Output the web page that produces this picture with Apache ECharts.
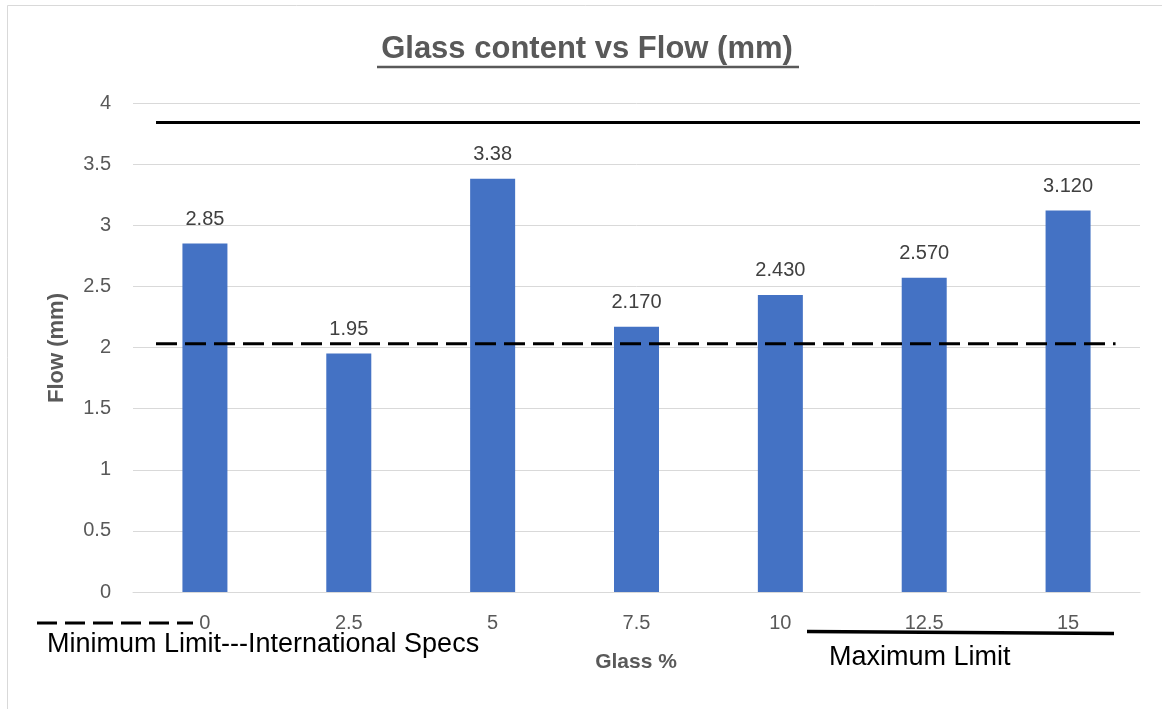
<!DOCTYPE html>
<html>
<head>
<meta charset="utf-8">
<title>Glass content vs Flow (mm)</title>
<script src="https://cdn.jsdelivr.net/npm/echarts@6/dist/echarts.min.js"></script>
<style>
  html, body { margin: 0; padding: 0; background: #ffffff; }
  #chart { width: 1162px; height: 709px; }
</style>
</head>
<body>
<div id="chart"></div>
<script>
// Glass content (%) on the x axis
const glassPercent = ['0', '2.5', '5', '7.5', '10', '12.5', '15'];
// Measured flow (mm) for each glass content
const flowValues = [2.85, 1.95, 3.38, 2.17, 2.43, 2.57, 3.12];
// Value labels as written above the bars
const flowLabels = ['2.85', '1.95', '3.38', '2.170', '2.430', '2.570', '3.120'];
// Specification limits (mm)
const maximumLimit = 3.84;
const minimumLimit = 2.03;
// Y axis ticks
const yMin = 0, yMax = 4, yStep = 0.5;

const FONT = 'Liberation Sans';
const GRID = { left: 133, right: 22, top: 103, bottom: 117 };

// Horizontal extent of the limit lines, in category units on a hidden x axis
const limitSpan = { maxFrom: 0.16, maxTo: 7, minFrom: 0.16, minTo: 6.83 };

const chart = echarts.init(document.getElementById('chart'), null, { renderer: 'canvas' });

const option = {
  animation: false,
  backgroundColor: '#ffffff',
  textStyle: { fontFamily: FONT },
  grid: GRID,
  xAxis: [
    {
      type: 'category',
      data: glassPercent,
      axisLine: { show: true, lineStyle: { color: '#d9d9d9', width: 1 } },
      axisTick: { show: false },
      axisLabel: { color: '#595959', fontSize: 20, fontFamily: FONT, margin: 21 },
      splitLine: { show: false }
    },
    {
      type: 'value',
      min: 0,
      max: glassPercent.length,
      show: false
    }
  ],
  yAxis: {
    type: 'value',
    min: yMin,
    max: yMax,
    interval: yStep,
    axisLine: { show: false },
    axisTick: { show: false },
    axisLabel: { color: '#595959', fontSize: 20, fontFamily: FONT, margin: 22 },
    splitLine: { show: true, lineStyle: { color: '#d9d9d9', width: 1 } }
  },
  series: [
    {
      name: 'Flow (mm)',
      type: 'bar',
      data: flowValues,
      barWidth: 45,
      itemStyle: { color: '#4472C4' },
      label: {
        show: true,
        position: 'top',
        distance: 14,
        color: '#404040',
        fontSize: 20,
        fontFamily: FONT,
        formatter: (p) => flowLabels[p.dataIndex]
      },
      z: 2
    },
    {
      name: 'Maximum Limit',
      type: 'line',
      xAxisIndex: 1,
      data: [[limitSpan.maxFrom, maximumLimit], [limitSpan.maxTo, maximumLimit]],
      symbol: 'none',
      lineStyle: { color: '#000000', width: 3 },
      z: 5
    },
    {
      name: 'Minimum Limit',
      type: 'line',
      xAxisIndex: 1,
      data: [[limitSpan.minFrom, minimumLimit], [limitSpan.minTo, minimumLimit]],
      symbol: 'none',
      lineStyle: { color: '#000000', width: 3, type: [21, 8] },
      z: 5
    }
  ],
  graphic: [
    // chart frame
    {
      type: 'rect',
      shape: { x: 7.5, y: 5.5, width: 1200, height: 800 },
      style: { fill: 'none', stroke: '#d9d9d9', lineWidth: 1 },
      silent: true
    },
    // title with underline
    {
      type: 'text',
      x: 587,
      y: 49,
      style: {
        text: 'Glass content vs Flow (mm)',
        font: 'bold 31px "Liberation Sans"',
        fill: '#595959',
        align: 'center',
        verticalAlign: 'middle'
      }
    },
    {
      type: 'line',
      shape: { x1: 377, y1: 67, x2: 799, y2: 67 },
      style: { stroke: '#595959', lineWidth: 2.5 }
    },
    // axis titles
    {
      type: 'text',
      x: 57,
      y: 348,
      rotation: Math.PI / 2,
      style: {
        text: 'Flow (mm)',
        font: 'bold 22px "Liberation Sans"',
        fill: '#595959',
        align: 'center',
        verticalAlign: 'middle'
      }
    },
    {
      type: 'text',
      x: 636,
      y: 662,
      style: {
        text: 'Glass %',
        font: 'bold 21px "Liberation Sans"',
        fill: '#595959',
        align: 'center',
        verticalAlign: 'middle'
      }
    },
    // limit key: dashed minimum
    {
      type: 'line',
      shape: { x1: 37, y1: 623, x2: 193, y2: 623 },
      style: { stroke: '#000000', lineWidth: 3, lineDash: [20, 8] }
    },
    {
      type: 'text',
      x: 47,
      y: 645,
      style: {
        text: 'Minimum Limit---International Specs',
        font: '27px "Liberation Sans"',
        fill: '#000000',
        align: 'left',
        verticalAlign: 'middle'
      }
    },
    // limit key: solid maximum
    {
      type: 'line',
      shape: { x1: 807, y1: 631.5, x2: 1114, y2: 633.5 },
      style: { stroke: '#000000', lineWidth: 3.5 }
    },
    {
      type: 'text',
      x: 829,
      y: 658,
      style: {
        text: 'Maximum Limit',
        font: '27px "Liberation Sans"',
        fill: '#000000',
        align: 'left',
        verticalAlign: 'middle'
      }
    }
  ]
};

chart.setOption(option);
</script>
</body>
</html>
